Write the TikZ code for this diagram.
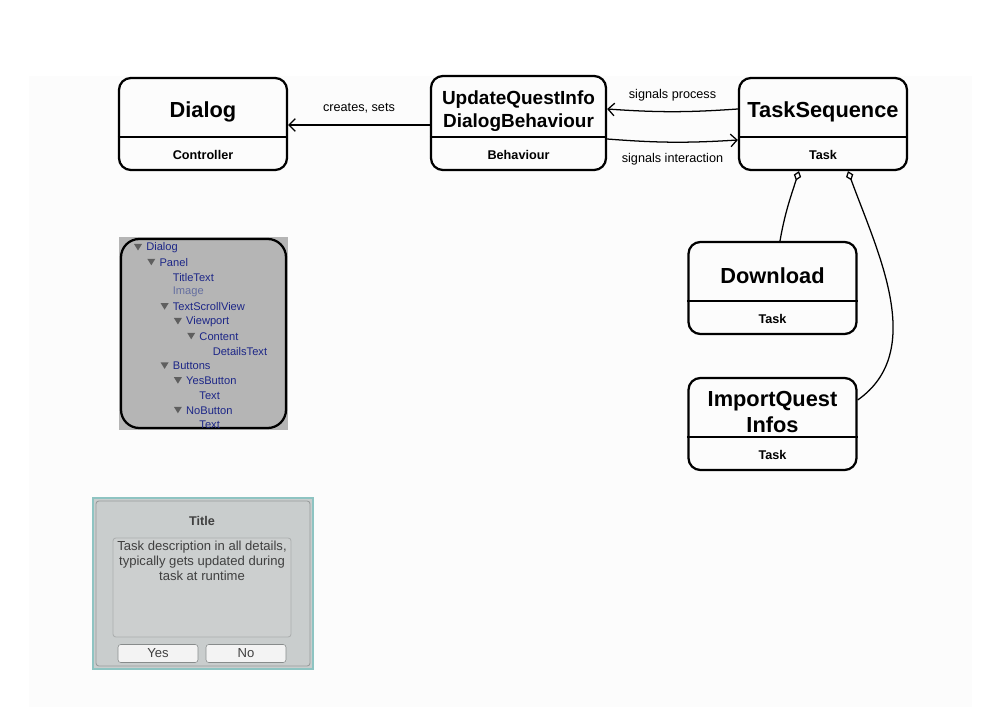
\documentclass[tikz,border=0pt]{standalone}
\usepackage{fontspec}
\setmainfont{Liberation Sans}
\usetikzlibrary{arrows.meta,calc}

\definecolor{treeblue}{RGB}{28,38,135}
\definecolor{treedim}{RGB}{100,110,160}
\definecolor{treegray}{RGB}{95,95,95}
\definecolor{panelgray}{RGB}{181,181,181}
\definecolor{uigray}{RGB}{201,205,205}
\definecolor{uiteal}{RGB}{142,196,194}
\definecolor{uiline}{RGB}{150,154,154}
\definecolor{btnfill}{RGB}{243,243,243}

\begin{document}
\begin{tikzpicture}[x=0.025cm, y=-0.025cm,
    box/.style = {draw, rounded corners=8.5pt, line width=1.6pt,
      minimum width=4.2cm, minimum height=2.3cm, inner sep=0pt},
    boxtitle/.style = {font=\fontsize{15.5}{18.4}\selectfont\bfseries, align=center},
    boxkind/.style = {font=\fontsize{9}{11}\selectfont\bfseries},
    link/.style = {line width=0.9pt, -{Straight Barb[length=4.5pt,width=9pt]}},
    linklabel/.style = {font=\fontsize{9}{11}\selectfont},
    agg/.style = {line width=0.9pt, {Diamond[open,length=7pt,width=5.5pt]}-},
    treeitem/.style = {anchor=west, inner sep=0pt, text=treeblue,
      font=\fontsize{7.9}{9}\selectfont},
    uitext/.style = {font=\fontsize{9.3}{10.6}\selectfont, text=black!75}]

  \useasboundingbox (0,0) rectangle (1000,707);
  \fill[black!1] (29,76) rectangle (972,707);

  % class boxes
  \foreach \n/\x/\y/\t/\k in {
      dialog/203/124/Dialog/Controller,
      tseq/823/124/TaskSequence/Task,
      download/772.5/288/Download/Task,
      import/772.5/424/{ImportQuest\\Infos}/Task}
  {
    \node[box] (\n) at (\x,\y) {};
    \draw[line width=1pt] ($(\n.north west)+(0,60)$) -- ($(\n.north east)+(0,60)$);
    \node[boxtitle] (\n-title) at ($(\n.north)+(0,35)$) {\t};
    \node[boxkind] (\n-kind) at ($(\n.south)+(0,-16)$) {\k};
  }
  \node[box, minimum width=4.375cm, minimum height=2.35cm] (uq) at (518.5,123) {};
  \draw[line width=1pt] ($(uq.north west)+(0,62)$) -- ($(uq.north east)+(0,62)$);
  \node[boxtitle, font=\fontsize{13.5}{16.3}\selectfont\bfseries] (uq-title)
    at ($(uq.north)+(0,36)$) {UpdateQuestInfo\\DialogBehaviour};
  \node[boxkind] (uq-kind) at ($(uq.south)+(0,-16)$) {Behaviour};

  % connectors
  \draw[link] (uq.west |- 0,125) -- node[linklabel, above=5pt] {creates, sets} (dialog.east |- 0,125);
  \draw[link] (tseq.west |- 0,109) to[bend left=4]
    node[linklabel, above=4pt] {signals process} (uq.east |- 0,109);
  \draw[link] (uq.east |- 0,139) to[bend right=4]
    node[linklabel, below=4pt] {signals interaction} (tseq.west |- 0,140);
  \draw[agg] ($(tseq.south)+(-24,0)$) to[out=-108, in=80] ($(download.north)+(7.5,0)$);
  \draw[agg] ($(tseq.south)+(25,0)$) to[out=-70, in=35, looseness=0.95] ($(import.east)+(0,-24)$);

  % hierarchy panel
  \fill[panelgray] (119,237) rectangle (288,430);
  \draw[line width=1.6pt, rounded corners=13pt] (121,239) rectangle (286,428);
  \foreach \lvl/\lbl/\tri [count=\i from 0] in {
      0/Dialog/1, 1/Panel/1, 2/TitleText/0, 2/{\color{treedim}Image}/0,
      2/TextScrollView/1, 3/Viewport/1, 4/Content/1, 5/DetailsText/0,
      2/Buttons/1, 3/YesButton/1, 4/Text/0, 3/NoButton/1, 4/Text/0}
  {
    \node[treeitem] (item\i) at ({146+13.3*\lvl},{247.5+14.8*\i}) {\lbl};
    \ifnum\tri=1
      \fill[treegray] ($(item\i.west)+(-12,-3.5)$) -- ++(8,0) -- ++(-4,6.5) -- cycle;
    \fi
  }

  % dialog mock-up
  \draw[uiteal, fill=uigray, line width=2pt] (93,498) rectangle (313,669);
  \draw[uiline, rounded corners=2pt, line width=0.6pt] (96,501) rectangle (310,666);
  \node[uitext, font=\fontsize{9}{11}\selectfont\bfseries] (uititle) at (202,521) {Title};
  \draw[uiline!80, fill=uigray!95!white, rounded corners=2pt, line width=0.6pt]
    (113,538) rectangle (291,637);
  \node[uitext, align=center, anchor=north, inner sep=0pt] (uidesc) at (202,541)
    {Task description in all details,\\typically gets updated during\\task at runtime};
  \node[draw=uiline!90!black, fill=btnfill, rounded corners=2pt, minimum width=2cm,
    minimum height=0.45cm, uitext, inner sep=0pt] (yesbtn) at (158,653.5) {Yes};
  \node[draw=uiline!90!black, fill=btnfill, rounded corners=2pt, minimum width=2cm,
    minimum height=0.45cm, uitext, inner sep=0pt] (nobtn) at (246,653.5) {No};
\end{tikzpicture}
\end{document}
